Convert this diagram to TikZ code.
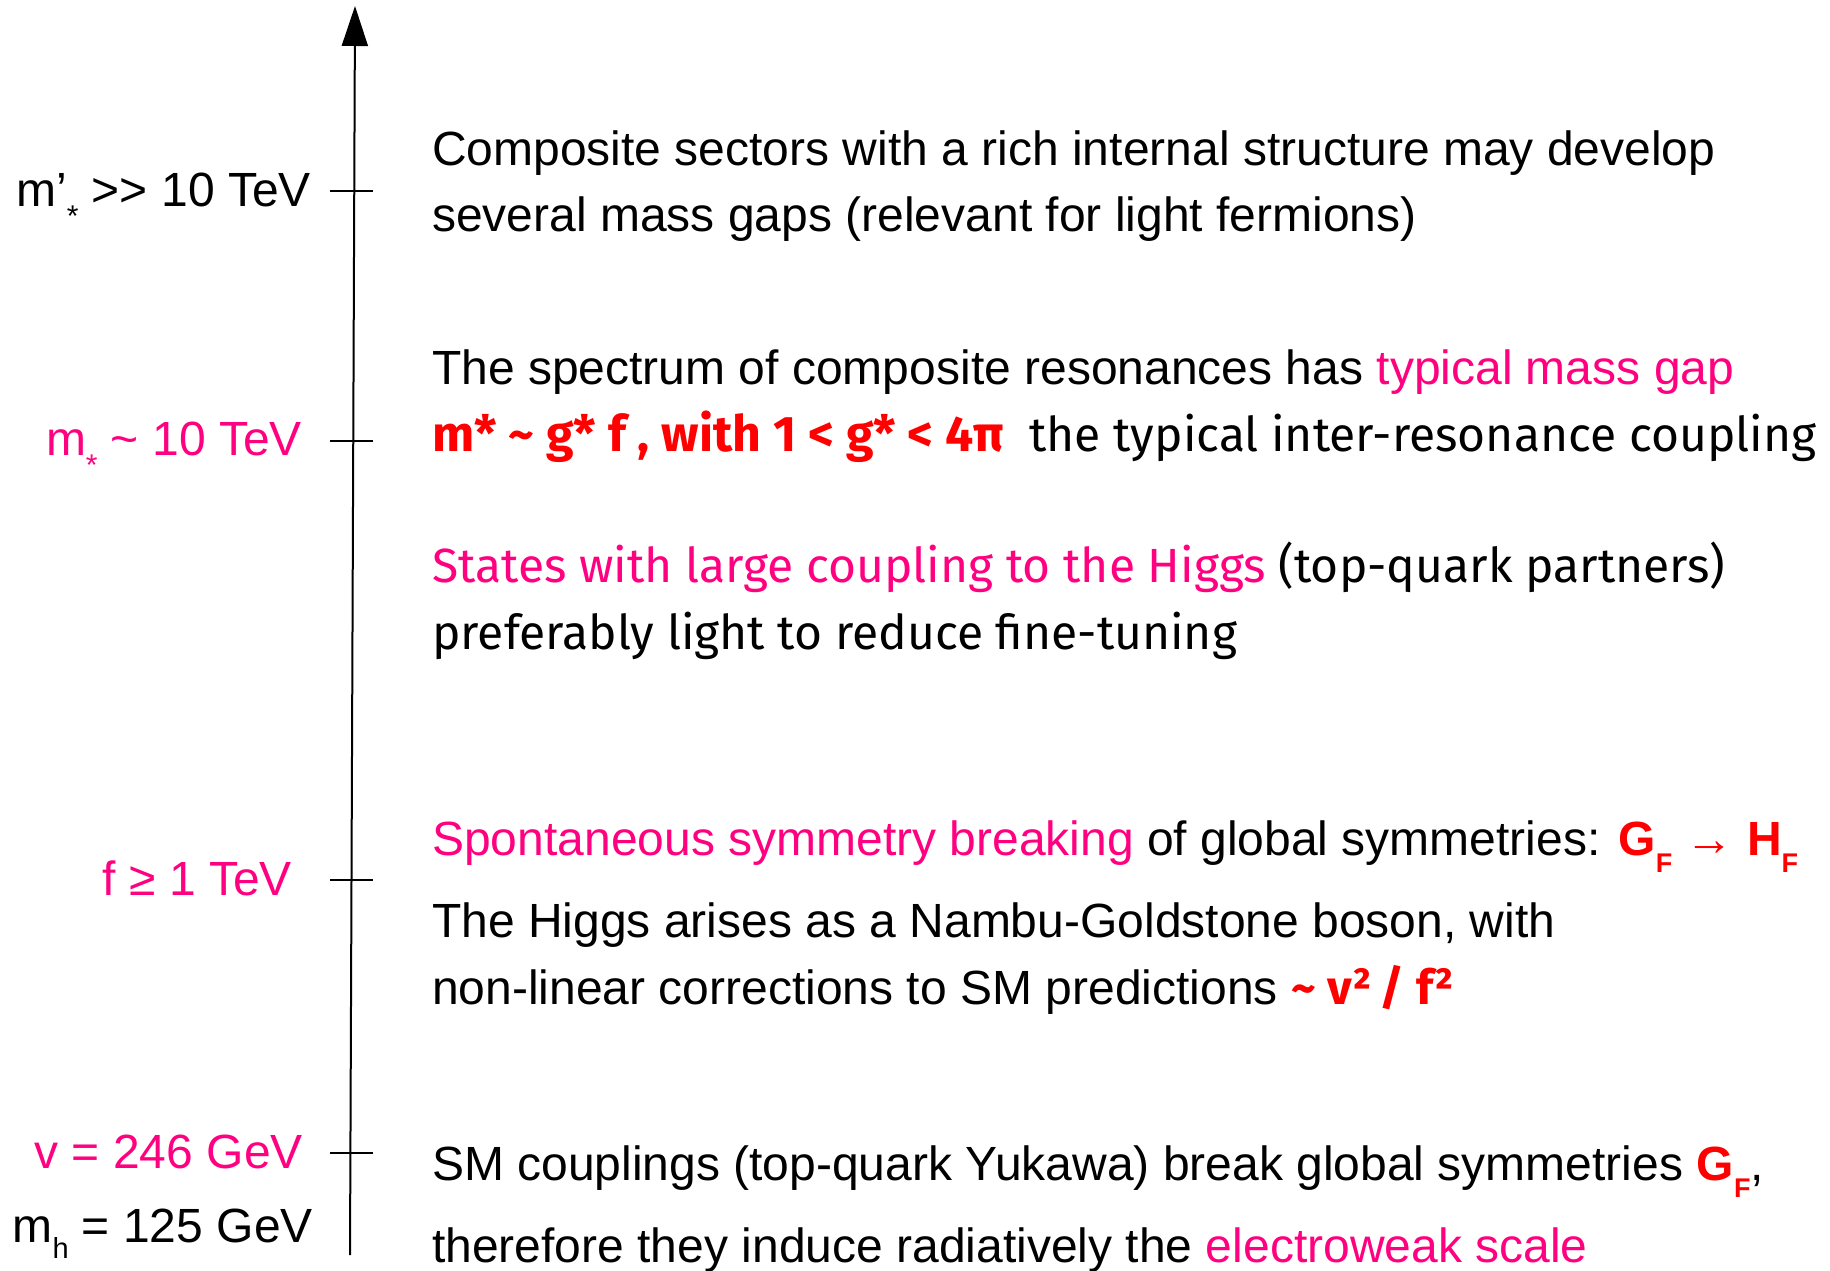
\documentclass[tikz,border=0pt]{standalone}
\usepackage{fontspec}
\setmainfont{Liberation Sans}
\newfontfamily\ubu{Fira Sans}
\usetikzlibrary{arrows.meta}
\definecolor{pk}{HTML}{FF0080}
\definecolor{rd}{HTML}{FF0000}
% #1 drop, #2 size, #3 text
\newcommand{\lowsub}[3]{\raisebox{-#1pt}{\fontsize{#2}{#2}\selectfont #3}}
\newcommand{\bigtxt}{\fontsize{48}{58}\selectfont}
\tikzset{
  txt/.style={anchor=base west, inner sep=0pt, font=\bigtxt},
  lbl/.style={anchor=base east, inner sep=0pt, font=\bigtxt},
  axisline/.style={line width=2pt},
  tickline/.style={line width=2pt}
}
\begin{document}
\begin{tikzpicture}[x=1pt,y=-1pt]
\useasboundingbox (0,0) rectangle (1830,1270);
% axis
\coordinate (ax0) at (350,1255);
\coordinate (ax1) at (355,6);
\draw[axisline,-{Triangle[width=26pt,length=40pt]}] (ax0) -- (ax1);
% ticks
\foreach \n/\y in {t1/191,t2/441,t3/880,t4/1153}{
  \coordinate (\n a) at (330,\y);
  \coordinate (\n b) at (373,\y);
  \draw[tickline] (\n a) -- (\n b);
}
% left labels
\node[lbl] (l1) at (311,206) {m’\lowsub{20}{30}{*} >{}> 10 TeV};
\node[lbl,text=pk] (l2) at (302,455) {m\lowsub{20}{30}{*} \char"007E\ 10 TeV};
\node[lbl,text=pk] (l3) at (292,895) {f ≥ 1 TeV};
\node[lbl,text=pk] (l4) at (303,1168) {v = 246 GeV};
\node[lbl] (l5) at (313,1242) {m\lowsub{16}{29}{h} = 125 GeV};
% right texts
\node[txt] (r1) at (432,165) {Composite sectors with a rich internal structure may develop};
\node[txt] (r2) at (432,231) {several mass gaps (relevant for light fermions)};
\node[txt] (r3) at (432,384) {The spectrum of composite resonances has \textcolor{pk}{typical mass gap}};
\node[txt,font=\bigtxt\ubu] (r4) at (432,451) {\textcolor{rd}{\fontsize{50}{58}\selectfont\bfseries m* \char"007E\ g* f , with 1 < g* < 4π}\ \ the typical inter-resonance coupling};
\node[txt,font=\bigtxt\ubu] (r5) at (432,582) {\textcolor{pk}{States with large coupling to the Higgs} (top-quark partners)};
\node[txt,font=\bigtxt\ubu] (r6) at (432,649) {preferably light to reduce fine-tuning};
\node[txt] (r7) at (432,855) {\textcolor{pk}{Spontaneous symmetry breaking} of global symmetries: \textcolor{rd}{\bfseries G\lowsub{17}{27}{F} \mdseries→ \bfseries H\lowsub{17}{27}{F}}};
\node[txt] (r8) at (432,937) {The Higgs arises as a Nambu-Goldstone boson, with};
\node[txt] (r9) at (432,1004) {non-linear corrections to SM predictions \textcolor{rd}{\ubu\bfseries \char"007E\ v²\,/ f²}};
\node[txt] (r10) at (432,1180) {SM couplings (top-quark Yukawa) break global symmetries \textcolor{rd}{\bfseries G\lowsub{17}{27}{F}},};
\node[txt] (r11) at (432,1262) {therefore they induce radiatively the \textcolor{pk}{electroweak scale}};
\end{tikzpicture}
\end{document}
